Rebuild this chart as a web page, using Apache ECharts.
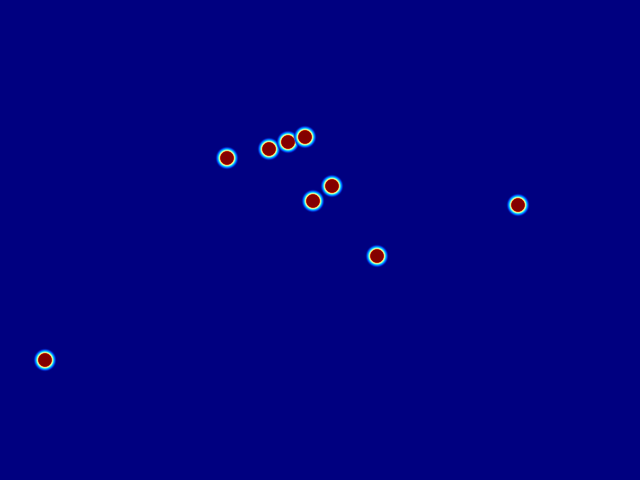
<!DOCTYPE html>
<html>
<head>
<meta charset="utf-8">
<script src="https://cdn.jsdelivr.net/npm/echarts@6/dist/echarts.min.js"></script>
<style>html,body{margin:0;padding:0;background:#000080;}#c{width:640px;height:480px;}</style>
</head>
<body>
<div id="c"></div>
<script>
var xValues = [45, 227, 269, 288, 305, 313, 332, 377, 518];
var yValues = [120, 322, 331, 338, 343, 279, 294, 224, 275];

var chart = echarts.init(document.getElementById('c'));
var data = xValues.map(function (x, i) { return [x, yValues[i]]; });
chart.setOption({
  backgroundColor: '#000080',
  animation: false,
  grid: { left: 0, right: 0, top: 0, bottom: 0 },
  xAxis: { type: 'value', min: 0, max: 640, show: false },
  yAxis: { type: 'value', min: 0, max: 480, show: false },
  series: [{
    type: 'scatter',
    data: data,
    symbolSize: 24,
    itemStyle: {
      opacity: 1,
      color: {
        type: 'radial', x: 0.5, y: 0.5, r: 0.5,
        colorStops: [
          { offset: 0, color: '#800000' },
          { offset: 0.5, color: '#850000' },
          { offset: 0.55, color: '#c02000' },
          { offset: 0.6, color: '#ffe070' },
          { offset: 0.66, color: '#a0ffd0' },
          { offset: 0.74, color: '#00c0ff' },
          { offset: 0.84, color: '#0040f0' },
          { offset: 1, color: 'rgba(0,0,128,0)' }
        ]
      }
    }
  }]
});
</script>
</body>
</html>
